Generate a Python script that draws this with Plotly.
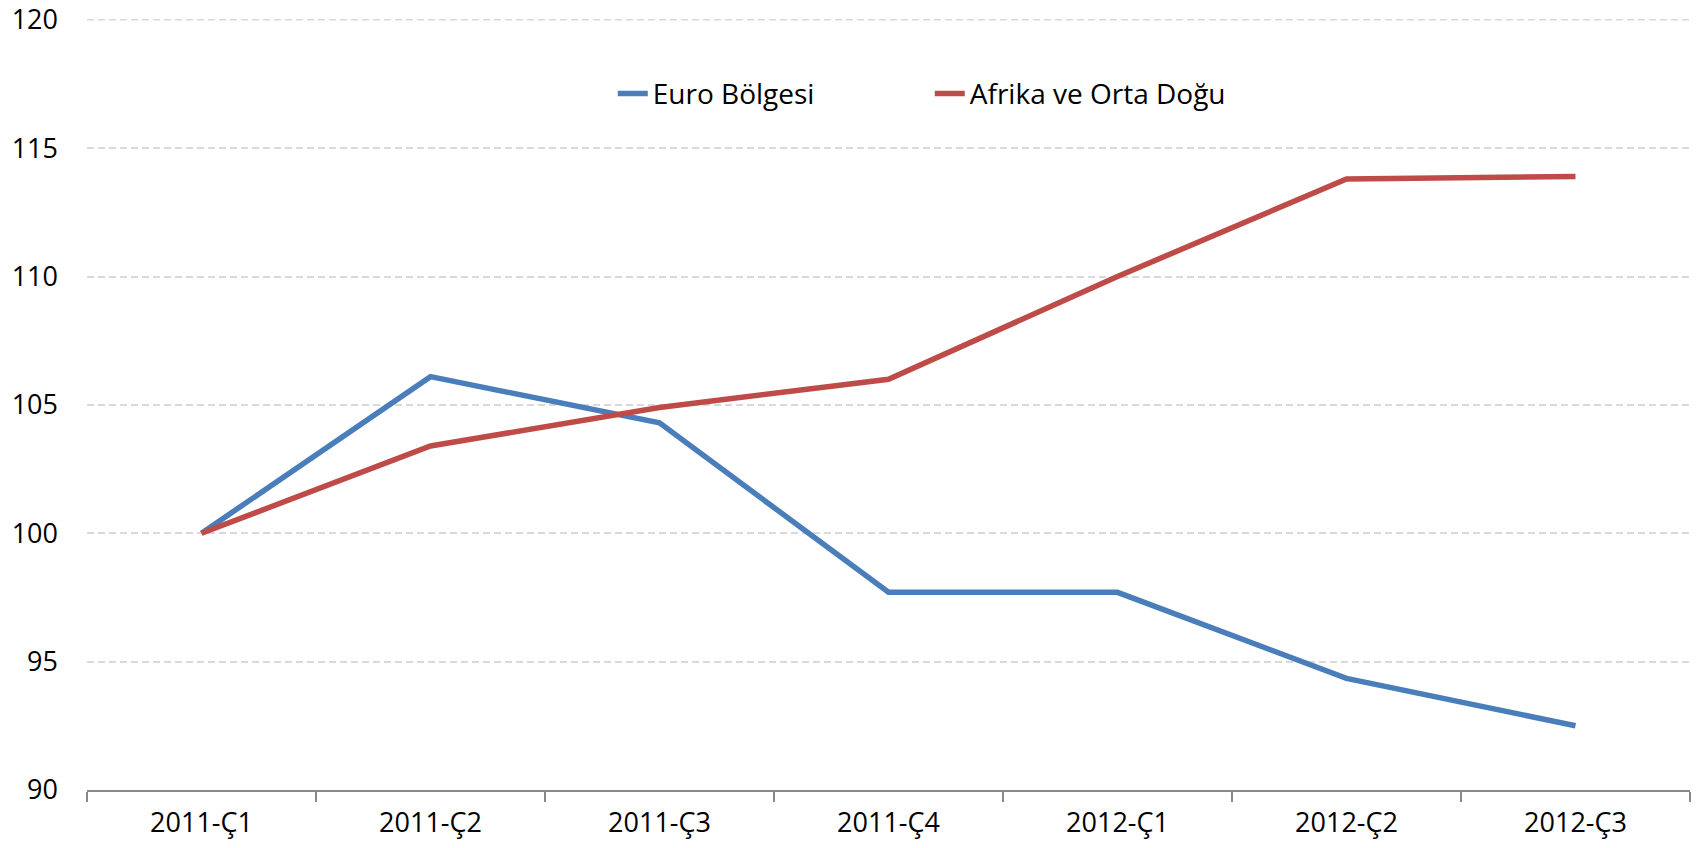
import plotly.graph_objects as go

categories = ["2011-Ç1", "2011-Ç2", "2011-Ç3", "2011-Ç4", "2012-Ç1", "2012-Ç2", "2012-Ç3"]
euro = [100.0, 106.1, 104.3, 97.7, 97.7, 94.35, 92.5]
afrika = [100.0, 103.4, 104.9, 106.0, 110.0, 113.8, 113.9]
y_ticks = [90, 95, 100, 105, 110, 115, 120]

FONT = "Open Sans"
GRID = "#D9D9D9"

fig = go.Figure()
fig.add_trace(go.Scatter(x=categories, y=euro, mode="lines", name="Euro Bölgesi",
                         line=dict(color="#4A7EBB", width=5.5)))
fig.add_trace(go.Scatter(x=categories, y=afrika, mode="lines", name="Afrika ve Orta Doğu",
                         line=dict(color="#BE4B48", width=5.5)))

# top gridline (plotly drops the gridline sitting on the plot edge)
fig.add_shape(type="line", xref="paper", yref="y", x0=0, x1=1, y0=y_ticks[-1], y1=y_ticks[-1],
              line=dict(color=GRID, width=1.5, dash="7px,4px"), layer="below")

fig.update_layout(
    width=1698, height=848,
    margin=dict(l=87, r=8, t=19, b=58, autoexpand=False),
    paper_bgcolor="white", plot_bgcolor="white",
    font=dict(family=FONT, size=27, color="black"),
    showlegend=True,
    legend=dict(orientation="h", x=0.328, xanchor="left", y=0.903, yanchor="middle",
                font=dict(family=FONT, size=28, color="black"),
                bgcolor="rgba(0,0,0,0)", entrywidth=272, entrywidthmode="pixels"),
)
fig.update_xaxes(
    type="category", tickson="boundaries", ticks="outside", ticklen=10,
    tickcolor="#898989", tickwidth=1.5, showline=True, linecolor="#898989", linewidth=1.5,
    showgrid=False, range=[-0.5, 6.5], ticklabelstandoff=8, automargin=False,
    tickfont=dict(family=FONT, size=27, color="black"),
)
fig.update_yaxes(
    range=[90, 120.03], tickvals=y_ticks, showgrid=True, gridcolor=GRID, gridwidth=1.5,
    griddash="7px,4px", zeroline=False, showline=False, ticks="", automargin=False,
    ticklabelstandoff=28, tickfont=dict(family=FONT, size=27, color="black"),
    ticklabeloverflow="allow",
)

fig.write_html("out.html", config={"displayModeBar": False},
               post_script="document.body.style.margin='0px';")
